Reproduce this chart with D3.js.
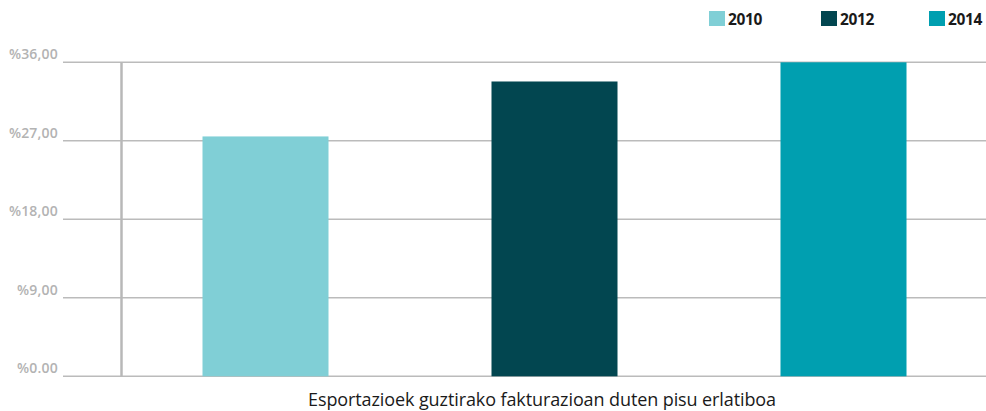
<!DOCTYPE html>
<html><head><meta charset="utf-8">
<script src="https://cdn.jsdelivr.net/npm/d3@7"></script>
<style>body{margin:0;background:#fff}svg{display:block}</style>
</head><body>
<svg id="c" width="986" height="411"></svg>
<script>
const categories = ["2010", "2012", "2014"];
const values = [27.5, 33.8, 36.0];
const colors = ["#80CFD6", "#024650", "#009FB0"];
const tickValues = [0, 9, 18, 27, 36];
const tickLabels = ["%0.00", "%9,00", "%18,00", "%27,00", "%36,00"];
const xTitle = "Esportazioek guztirako fakturazioan duten pisu erlatiboa";

const svg = d3.select("#c");
const font = "'Open Sans', 'Noto Sans', sans-serif";
const y = d3.scaleLinear().domain([0, 36]).range([376.3, 62.3]);
const x = d3.scaleBand().domain(categories).range([121, 988]).paddingInner(0.564).paddingOuter(0.282);

// gridlines
svg.append("g").selectAll("line").data(tickValues).join("line")
  .attr("x1", 63).attr("x2", 986)
  .attr("y1", d => y(d)).attr("y2", d => y(d))
  .attr("stroke", "#bbbbbb").attr("stroke-width", 1.5);

// tick labels
svg.append("g").selectAll("text").data(tickValues).join("text")
  .attr("x", 58).attr("y", d => y(d) - 3)
  .attr("text-anchor", "end")
  .attr("font-family", font).attr("font-size", 14).attr("font-weight", 600)
  .attr("fill", "#b3b3b3").attr("letter-spacing", 0.2)
  .text((d, i) => tickLabels[i]);

// bars
svg.append("g").selectAll("rect").data(categories).join("rect")
  .attr("x", d => x(d)).attr("width", x.bandwidth())
  .attr("y", (d, i) => y(values[i])).attr("height", (d, i) => y(0) - y(values[i]))
  .attr("fill", (d, i) => colors[i]);

// vertical axis line
svg.append("line").attr("x1", 121.5).attr("x2", 121.5)
  .attr("y1", y(36)).attr("y2", y(0))
  .attr("stroke", "#b8b8b8").attr("stroke-width", 2.5);

// legend
const legX = [709, 821, 929];
const leg = svg.append("g").selectAll("g").data(categories).join("g")
  .attr("transform", (d, i) => `translate(${legX[i]},11)`);
leg.append("rect").attr("width", 16).attr("height", 15).attr("fill", (d, i) => colors[i]);
leg.append("text").attr("x", 19).attr("y", 14)
  .attr("font-family", font).attr("font-size", 15.5).attr("font-weight", 700)
  .attr("fill", "#1a1a1a").attr("letter-spacing", -0.4).text(d => d);

// x title
svg.append("text").attr("x", 542).attr("y", 406)
  .attr("text-anchor", "middle")
  .attr("font-family", font).attr("font-size", 18)
  .attr("fill", "#1a1a1a").attr("letter-spacing", -0.1).text(xTitle);
</script>
</body></html>
